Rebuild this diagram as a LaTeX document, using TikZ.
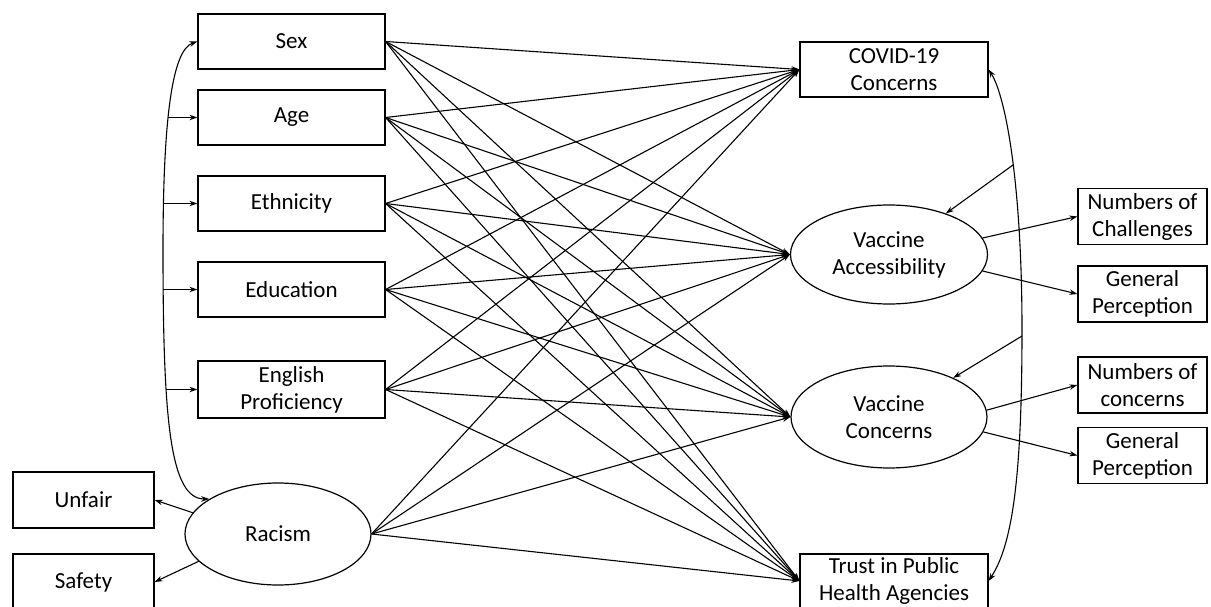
\documentclass[tikz,border=0pt]{standalone}
\usepackage{fontspec}
\setmainfont{Carlito}
\usetikzlibrary{shapes.geometric, arrows.meta, positioning}

\begin{document}
\begin{tikzpicture}[
  x=1pt, y=-1pt,
  every node/.style={font=\fontsize{23}{27}\selectfont, align=center},
  obs/.style={rectangle, draw, line width=1.2pt, minimum width=187pt, minimum height=55pt, inner sep=0pt},
  ind/.style={rectangle, draw, line width=1.2pt, minimum width=129pt, minimum height=56pt, inner sep=0pt},
  latent/.style={ellipse, draw, line width=1.2pt, inner sep=0pt},
  reg/.style={-{Stealth[length=8pt,width=5.5pt]}, line width=1.1pt},
  cov/.style={{Stealth[length=8pt,width=5.5pt]}-{Stealth[length=8pt,width=5.5pt]}, line width=1.1pt}
]
\useasboundingbox (0,0) rectangle (1211,607);

% Predictors
\node[obs] (Sex) at (291.5,41.5) {Sex};
\node[obs] (Age) at (291.5,117.5) {Age};
\node[obs] (Eth) at (291.5,203.5) {Ethnicity};
\node[obs] (Edu) at (291.5,289.5) {Education};
\node[obs, minimum height=57pt] (Eng) at (291.5,389.5) {English\\Proficiency};
\node[latent, minimum width=186pt, minimum height=102pt] (Rac) at (278,534) {Racism};
\node[obs, minimum width=141pt, minimum height=56pt] (Unfair) at (83.5,500) {Unfair};
\node[obs, minimum width=141pt, minimum height=56pt] (Safety) at (83.5,582) {Safety};

% Outcomes
\node[obs, minimum width=188pt] (Covid) at (894,69.5) {COVID-19\\Concerns};
\node[latent, minimum width=197pt, minimum height=99pt] (VAcc) at (889,254.5) {Vaccine\\Accessibility};
\node[latent, minimum width=196pt, minimum height=102pt] (VCon) at (889,417) {Vaccine\\Concerns};
\node[obs, minimum width=188pt, minimum height=54pt] (Trust) at (894,581) {Trust in Public\\Health Agencies};

% Indicators
\node[ind] (NChal) at (1142.5,216.5) {Numbers of\\Challenges};
\node[ind] (GPer1) at (1142.5,294) {General\\Perception};
\node[ind] (NCon) at (1142.5,385) {Numbers of\\concerns};
\node[ind] (GPer2) at (1142.5,455.5) {General\\Perception};

% Paths
\foreach \s in {Sex,Age,Eth,Edu,Eng,Rac}
  \foreach \t in {Covid,VAcc,VCon,Trust}
    \draw[reg] (\s.east) -- (\t.west);

% Measurement
\draw[reg] (Rac.166) -- (Unfair.east);
\draw[reg] (Rac.199) -- (Safety.east);
\draw[reg] (VAcc.10) -- (NChal.west);
\draw[reg] (VAcc.-10) -- (GPer1.west);
\draw[reg] (VCon.4) -- (NCon.west);
\draw[reg] (VCon.-9) -- (GPer2.west);

% Covariances, left
\draw[cov] (Sex.west) .. controls (172,50) and (163,120) .. (163,250)
  .. controls (163,420) and (170,499) .. (Rac.153);
\coordinate (bAge) at (168,117.5);
\coordinate (bEth) at (164,203.5);
\coordinate (bEdu) at (163,289.5);
\coordinate (bEng) at (165.5,389.5);
\draw[reg] (bAge) -- (Age.west);
\draw[reg] (bEth) -- (Eth.west);
\draw[reg] (bEdu) -- (Edu.west);
\draw[reg] (bEng) -- (Eng.west);

% Covariances, right
\draw[cov] (Covid.east) .. controls (1005,95) and (1022,180) .. (1022,330)
  .. controls (1022,480) and (1012,545) .. (Trust.east);
\coordinate (cAcc) at (1013,165);
\coordinate (cCon) at (1022,336);
\draw[reg] (cAcc) -- (VAcc);
\draw[reg] (cCon) -- (VCon);

\end{tikzpicture}
\end{document}
